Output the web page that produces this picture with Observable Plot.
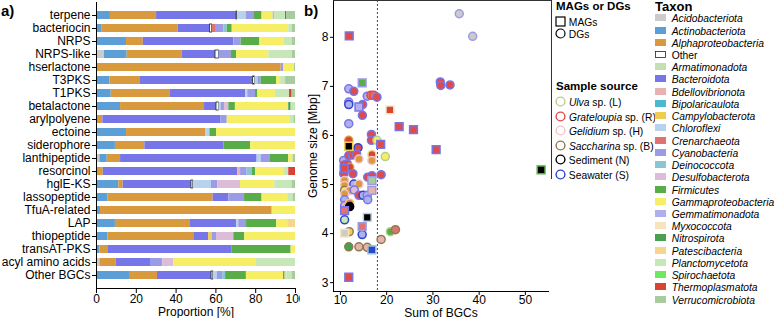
<!DOCTYPE html>
<html><head><meta charset="utf-8">
<script src="https://cdn.jsdelivr.net/npm/d3@7"></script>
<script src="https://cdn.jsdelivr.net/npm/@observablehq/plot@0.6"></script>
<style>
body{margin:0;background:#fff;font-family:"Liberation Sans",Arial,Helvetica,sans-serif;color:#000;}
#root{position:relative;width:778px;height:318px;overflow:hidden;background:#fff;}
.abs{position:absolute;}
.panel-label{position:absolute;font-weight:bold;font-size:15px;line-height:15px;}
.lg-title{position:absolute;font-weight:bold;white-space:nowrap;}
.lg-item{position:absolute;font-size:10.3px;white-space:nowrap;height:12px;line-height:12px;}
.lg-item i{font-style:italic;}
</style></head><body>
<div id="root">
  <div id="pa" class="abs" style="left:0;top:0;width:300px;height:318px;overflow:hidden"></div>
  <div id="pb" class="abs" style="left:300px;top:0;width:252px;height:318px"></div>
  <div class="abs" style="left:333px;top:0;width:218px;height:178px;border-top:1px solid #333;border-right:1px solid #333"></div>
  <div class="panel-label" style="left:1px;top:3px">a)</div>
  <div class="panel-label" style="left:304px;top:3px">b)</div>
  <div id="legends"></div>
</div>
<script>
// ---------- taxa ----------
const taxonCodes = ["Ac","An","Al","Ot","Ar","Ba","Bd","Bi","Ca","Ch","Cr","Cy","De","Ds","Fi","Ga","Ge","My","Ni","Pa","Pl","Sp","Th","Ve"];
const taxonNames = ["Acidobacteriota","Actinobacteriota","Alphaproteobacteria","Other","Armatimonadota","Bacteroidota","Bdellovibrionota","Bipolaricaulota","Campylobacterota","Chloroflexi","Crenarchaeota","Cyanobacteria","Deinococcota","Desulfobacterota","Firmicutes","Gammaproteobacteria","Gemmatimonadota","Myxococcota","Nitrospirota","Patescibacteria","Planctomycetota","Spirochaetota","Thermoplasmatota","Verrucomicrobiota"];
const taxonColors = ["#cbcbcb","#5b9fd6","#d99a3e","#ffffff","#c5dfb5","#7676e8","#e8b2b0","#4ab8d0","#f0cc50","#b6d2ec","#e07272","#9c9ce6","#8cc4d4","#dcbcd8","#58ad48","#f6ef66","#b0b0ee","#f8e4bc","#48a050","#f6d68c","#c6e8b8","#6ee860","#d84434","#a8cca0"];
const stackCodes = ["Ac","An","Al","Ba","Ot","Ar","Bd","Bi","Ca","Ch","Cr","Cy","De","Ds","Fi","Ga","Ge","My","Ni","Pa","Pl","Sp","Th","Ve"];

// ---------- sample sources ----------
const sourceCodes = ["L","R","H","Bs","N","S"];
const sourceItalic = ["Ulva","Grateloupia","Gelidium","Saccharina","",""];
const sourceRest = [" sp. (L)"," sp. (R)"," sp. (H)"," sp. (B)","Sediment (N)","Seawater (S)"];
const sourceNames = ["Ulva sp. (L)","Grateloupia sp. (R)","Gelidium sp. (H)","Saccharina sp. (B)","Sediment (N)","Seawater (S)"];
const sourceColors = ["#b5cf86","#e04a4a","#f2c4cc","#8c7c4c","#000000","#2d44cc"];

// ---------- panel a: BGC classes ----------
const categories = ["terpene","bacteriocin","NRPS","NRPS-like","hserlactone","T3PKS","T1PKS","betalactone","arylpolyene","ectoine","siderophore","lanthipeptide","resorcinol","hglE-KS","lassopeptide","TfuA-related","LAP","thiopeptide","transAT-PKS","acyl amino acids","Other BGCs"];
const barSegments = [
  [["An",7],["Al",23.2],["Ba",40.2],["Ot",0.3],["Ch",4.5],["Cy",4.2],["Fi",3.8],["Ga",5.6],["Ge",0.6],["Pl",5.6],["Th",0.5],["Ve",4.5]],
  [["An",2.85],["Al",38.15],["Ba",16],["Ot",1.1],["Cr",1.7],["Cy",4.2],["De",1.7],["Fi",2.5],["Ga",28.4],["Pl",1.7],["Ve",1.7]],
  [["An",15.1],["Al",8.4],["Ba",45.5],["Cy",3.7],["Fi",9.4],["Ga",12.4],["Pl",3.8],["Ve",1.7]],
  [["Ac",4],["An",11.4],["Al",27.6],["Ba",16.8],["Ot",1.7],["Cy",6.3],["Fi",2.6],["Ga",16.2],["Pl",11.7],["Ve",1.7]],
  [["Al",92.8],["Cy",1.3],["Ga",5.4],["Ve",0.5]],
  [["An",6.7],["Al",15.1],["Ba",56.9],["Ot",0.9],["Ch",1.5],["Cy",1.6],["Fi",7.8],["Ga",2.0],["Pl",2.5],["Ve",5.0]],
  [["An",7.4],["Al",29.5],["Ba",38.0],["Ch",1.1],["Cy",3.9],["Fi",1.2],["Ga",8.8],["Pl",7.1],["Th",1.3],["Ve",1.7]],
  [["An",12.1],["Al",42.2],["Ba",6.0],["Ot",1.2],["Ch",1.1],["Cy",1.7],["Ds",2.2],["Fi",3.3],["Ga",26.8],["Ni",1.2],["Pl",2.2]],
  [["Al",3.2],["Ba",59.4],["Cy",3.1],["Ga",31.8],["Pl",1.7],["Ve",0.8]],
  [["An",15.1],["Al",39.7],["Ch",2.2],["Fi",3.3],["Ga",39.7]],
  [["An",9.5],["Al",14.8],["Ba",39.7],["Fi",13.4],["Ga",22.6]],
  [["Ac",1.7],["An",3.7],["Al",6.7],["Ba",68.6],["Ch",2.0],["Cy",4.4],["Fi",9.5],["Ga",2.2],["Ve",1.2]],
  [["Al",3.4],["Ba",67.6],["Bd",1.4],["Cy",3.3],["De",2.5],["Fi",1.7],["Ga",14.2],["Pl",2.5],["Th",3.4]],
  [["An",11.2],["Al",2.2],["Ba",34.3],["Ot",0.9],["Ch",9.2],["Cy",3.2],["Ds",11.4],["Ga",17.2],["Pl",8.7],["Ve",1.7]],
  [["An",5.7],["Al",52.9],["Ba",7.9],["Cy",7.9],["Fi",8.8],["Ga",12.9],["Pl",2.7],["Ve",1.2]],
  [["An",2],["Al",86.3],["Ga",11.7]],
  [["An",9.5],["Al",37.7],["Ba",23.2],["Ch",1.1],["Cy",3.9],["Fi",15.1],["Ga",5.6],["Pa",3.9]],
  [["An",5.7],["Al",43.2],["Ba",7.5],["Ca",1.7],["Cy",2.2],["Ds",8.7],["Fi",5.5],["Ga",25.5]],
  [["An",1.7],["Al",4.0],["Ba",62.5],["Fi",29.6],["Ga",2.2]],
  [["Ac",1.7],["Al",8.2],["Ba",17.6],["Cy",5.8],["Ds",5.6],["Ga",41.5],["Pl",19.6]],
  [["An",17.1],["Al",13.7],["Ba",27.3],["Ot",0.9],["Ch",2.0],["Cy",2.7],["De",1.5],["Fi",10.5],["Ga",18.8],["Pa",0.9],["Ni",0.6],["Pl",2.8],["Ve",1.7]]
];
const proportionTicks = [0,20,40,60,80,100];

// ---------- panel b: genomes ----------
// [sum of BGCs, genome size (Mbp), MAG/DG, fill code, stroke code]
const genomePoints = [
  [35.7,8.48,"DG","Ac","Cy"],[38.6,8.02,"DG","Ac","Cy"],[11.9,8.03,"MAG","R","Ba"],[14.7,7.07,"MAG","Fi","Cy"],
  [11.8,6.95,"DG","Ge","Ba"],[12.9,6.90,"DG","R","Ba"],[31.6,7.09,"DG","R","Ba"],[31.7,7.02,"DG","R","Ba"],[33.7,7.03,"DG","R","Ba"],
  [11.8,6.68,"DG","Ge","Ba"],[11.8,6.63,"DG","Ge","S"],[14.0,6.58,"MAG","Ge","Ba"],[14.8,6.63,"DG","R","Ba"],[15.8,6.80,"DG","Ge","Ba"],
  [16.6,6.82,"DG","Cr","R"],[17.2,6.82,"DG","Cr","R"],[17.9,6.78,"DG","R","Ba"],[14.75,6.41,"DG","R","Ba"],[11.8,6.24,"DG","Ge","Ba"],
  [20.7,6.52,"MAG","Th","My"],[22.7,6.18,"MAG","R","Ba"],[25.8,6.12,"MAG","R","Ba"],[30.7,5.71,"MAG","R","Ba"],
  [16.7,6.02,"DG","R","Ba"],[16.7,5.90,"DG","R","Ba"],[11.8,5.90,"DG","Th","Al"],[11.8,5.78,"MAG","N","Ca"],[13.8,5.75,"DG","R","S"],
  [17.9,5.90,"DG","Ga","L"],[18.7,5.82,"MAG","R","Ba"],[16.8,5.61,"DG","Th","Pa"],[19.7,5.57,"DG","Ga","L"],
  [10.7,5.49,"DG","Ge","Ba"],[11.8,5.59,"DG","R","Ba"],[12.6,5.60,"DG","R","Ba"],[13.5,5.62,"DG","R","Ba"],[14.0,5.52,"DG","Al","H"],[16.8,5.49,"DG","Al","H"],
  [10.9,5.40,"DG","Th","R"],[11.5,5.42,"DG","R","Ba"],[10.8,5.33,"MAG","R","Ba"],[12.0,5.35,"DG","Th","Al"],
  [10.7,5.22,"DG","R","Ba"],[12.7,5.22,"DG","R","Ba"],[15.9,5.15,"DG","R","Ba"],[16.8,5.18,"DG","R","Ba"],[18.8,5.20,"DG","R","Ba"],
  [16.8,5.08,"MAG","Ve","Cy"],[10.9,5.08,"DG","Al","H"],[10.9,4.98,"DG","Al","H"],[12.9,5.01,"DG","Ge","S"],[14.0,5.01,"DG","Al","H"],
  [10.9,4.88,"DG","Ga","Bs"],[12.0,4.88,"DG","Al","H"],[13.0,4.89,"DG","Ds","Ba"],[10.9,4.81,"DG","Al","H"],
  [14.0,4.78,"DG","R","Ba"],[14.9,4.78,"DG","Ge","S"],[15.8,4.78,"DG","Ge","Ba"],[15.9,4.69,"DG","Ge","Ba"],[16.8,4.88,"MAG","Bd","Cy"],
  [10.9,4.69,"DG","Ge","Ba"],[10.9,4.57,"DG","Bd","Ba"],[12.0,4.62,"DG","Cr","Ca"],[12.0,4.55,"DG","N","N"],[10.9,4.47,"MAG","Cr","Ba"],
  [10.9,4.28,"DG","Pl","S"],[15.8,4.33,"MAG","N","Ch"],[14.7,4.14,"MAG","Cr","Cy"],[14.7,3.98,"DG","Ge","S"],[10.9,4.01,"MAG","Ac","My"],
  [11.9,4.04,"DG","Ca","Bs"],[20.8,4.04,"DG","Fi","L"],[21.9,4.08,"DG","Cr","Bs"],[18.8,3.88,"DG","Bd","Bs"],
  [11.8,3.73,"DG","Ni","Bs"],[14.0,3.73,"DG","Bd","Bs"],[15.8,3.72,"DG","Bd","Bs"],[16.8,3.67,"MAG","S","De"],[11.8,3.11,"MAG","R","Ba"],
  [53.4,5.30,"MAG","N","Fi"]
];
const bgcTicks = [10,20,30,40,50];
const sizeTicks = [3,4,5,6,7,8];
const bgcThreshold = [18];

// ---------- helpers ----------
const codeName = {};
taxonCodes.forEach((c,i)=>codeName[c]=taxonNames[i]);
sourceCodes.forEach((c,i)=>codeName[c]=sourceNames[i]);
const FONT = '"Liberation Sans",Arial,Helvetica,sans-serif';

// ---------- panel a ----------
const barData = [];
categories.forEach((cat,i)=>barSegments[i].forEach(([c,v])=>barData.push({cat, taxon: codeName[c], v})));

const pa = Plot.plot({
  width: 300, height: 318,
  marginLeft: 96, marginRight: 5, marginTop: 2, marginBottom: 30,
  style: {fontFamily: FONT, fontSize: "12px", color: "#000", background: "transparent"},
  x: {domain: [0, 100], percent: true},
  y: {domain: categories, paddingInner: 0.4, paddingOuter: 0.215},
  color: {domain: taxonNames, range: taxonColors},
  marks: [
    Plot.barX(barData, Plot.stackX({
      x: "v", y: "cat", fill: "taxon", offset: "normalize",
      order: stackCodes.map(c=>codeName[c]),
      stroke: "#222", strokeWidth: 0.8,
      strokeOpacity: d => d.taxon === "Other" ? 1 : 0
    })),
    Plot.axisY({tickSize: 4, tickPadding: 2, label: null, fontSize: 12}),
    Plot.axisX({ticks: proportionTicks, tickFormat: d3.format("d"), tickSize: 5, tickPadding: 1, label: "Proportion [%]", labelAnchor: "center", labelArrow: "none", labelOffset: 27, fontSize: 12}),
    Plot.frame({anchor: "left"}),
    Plot.frame({anchor: "bottom"})
  ]
});
document.getElementById("pa").append(pa);

// ---------- panel b ----------
const ptData = genomePoints.map(([x,y,t,f,s])=>({x,y,type:t,fill:codeName[f],stroke:codeName[s]}));
const pb = Plot.plot({
  width: 252, height: 318,
  marginLeft: 33, marginRight: 4, marginTop: 0, marginBottom: 27,
  style: {fontFamily: FONT, fontSize: "12px", color: "#000", background: "transparent", overflow: "visible"},
  x: {domain: [8.5, 55]},
  y: {domain: [2.82, 8.75]},
  color: {domain: [...taxonNames, ...sourceNames], range: [...taxonColors, ...sourceColors]},
  marks: [
    Plot.ruleX(bgcThreshold, {stroke: "#333", strokeDasharray: "2,2", strokeWidth: 0.9}),
    Plot.dot(ptData, {filter: d=>d.type==="DG", x:"x", y:"y", r: 4, symbol: "circle", fill: "fill", stroke: "stroke", strokeWidth: 1.5}),
    Plot.dot(ptData, {filter: d=>d.type==="MAG", x:"x", y:"y", r: 4.4, symbol: "square", fill: "fill", stroke: "stroke", strokeWidth: 1.5}),
    Plot.axisY({ticks: sizeTicks, tickFormat: d3.format("d"), tickSize: 3, tickPadding: 2, label: "Genome size [Mbp]", labelAnchor: "center", labelArrow: "none", labelOffset: 25, fontSize: 12}),
    Plot.axisX({ticks: bgcTicks, tickFormat: d3.format("d"), tickSize: 4, tickPadding: 0, label: "Sum of BGCs", labelAnchor: "center", labelArrow: "none", labelOffset: 25, fontSize: 12}),
    Plot.frame({anchor: "left"}),
    Plot.frame({anchor: "bottom"})
  ]
});
document.getElementById("pb").append(pb);

// ---------- legends ----------
const lg = document.getElementById("legends");
function add(html, style, cls) {
  const d = document.createElement("div");
  d.className = cls; d.innerHTML = html; d.setAttribute("style", style); lg.append(d);
}
add("MAGs or DGs", "left:556px;top:0px;font-size:11.5px;line-height:12px;", "lg-title");
add('<svg width="11" height="11" style="vertical-align:-1px"><rect x="1" y="1" width="9" height="9" fill="none" stroke="#000" stroke-width="1.2"/></svg> MAGs', "left:555px;top:16px;", "lg-item");
add('<svg width="11" height="11" style="vertical-align:-1px"><circle cx="5.5" cy="5.5" r="4.5" fill="none" stroke="#000" stroke-width="1.2"/></svg> DGs', "left:555px;top:28px;", "lg-item");
add("Sample source", "left:556px;top:80px;font-size:11.5px;line-height:12px;", "lg-title");
sourceNames.forEach((n,i)=>{
  const txt = sourceItalic[i] ? `<i>${sourceItalic[i]}</i>${sourceRest[i]}` : sourceRest[i];
  add(`<svg width="11" height="11" style="vertical-align:-1px"><circle cx="5.5" cy="5.5" r="4.4" fill="none" stroke="${sourceColors[i]}" stroke-width="1.4"/></svg> ${txt}`,
      `left:555px;top:${96.3 + 14.5*i}px;`, "lg-item");
});
add("Taxon", "left:655px;top:0px;font-size:13px;line-height:13px;background:#fff;", "lg-title");
taxonNames.forEach((n,i)=>{
  const other = n === "Other";
  const sw = other
    ? `<svg width="11" height="8" style="vertical-align:0px"><rect x="0.5" y="0.5" width="10" height="6" fill="#fff" stroke="#222" stroke-width="0.8"/></svg>`
    : `<svg width="11" height="8" style="vertical-align:0px"><rect x="0" y="0" width="11" height="7" fill="${taxonColors[i]}"/></svg>`;
  add(`${sw}&nbsp;&nbsp;${other ? n : "<i>"+n+"</i>"}`, `left:655px;top:${13.3 + 12.23*i}px;background:#fff;padding-right:2px;`, "lg-item");
});
</script>
</body></html>
